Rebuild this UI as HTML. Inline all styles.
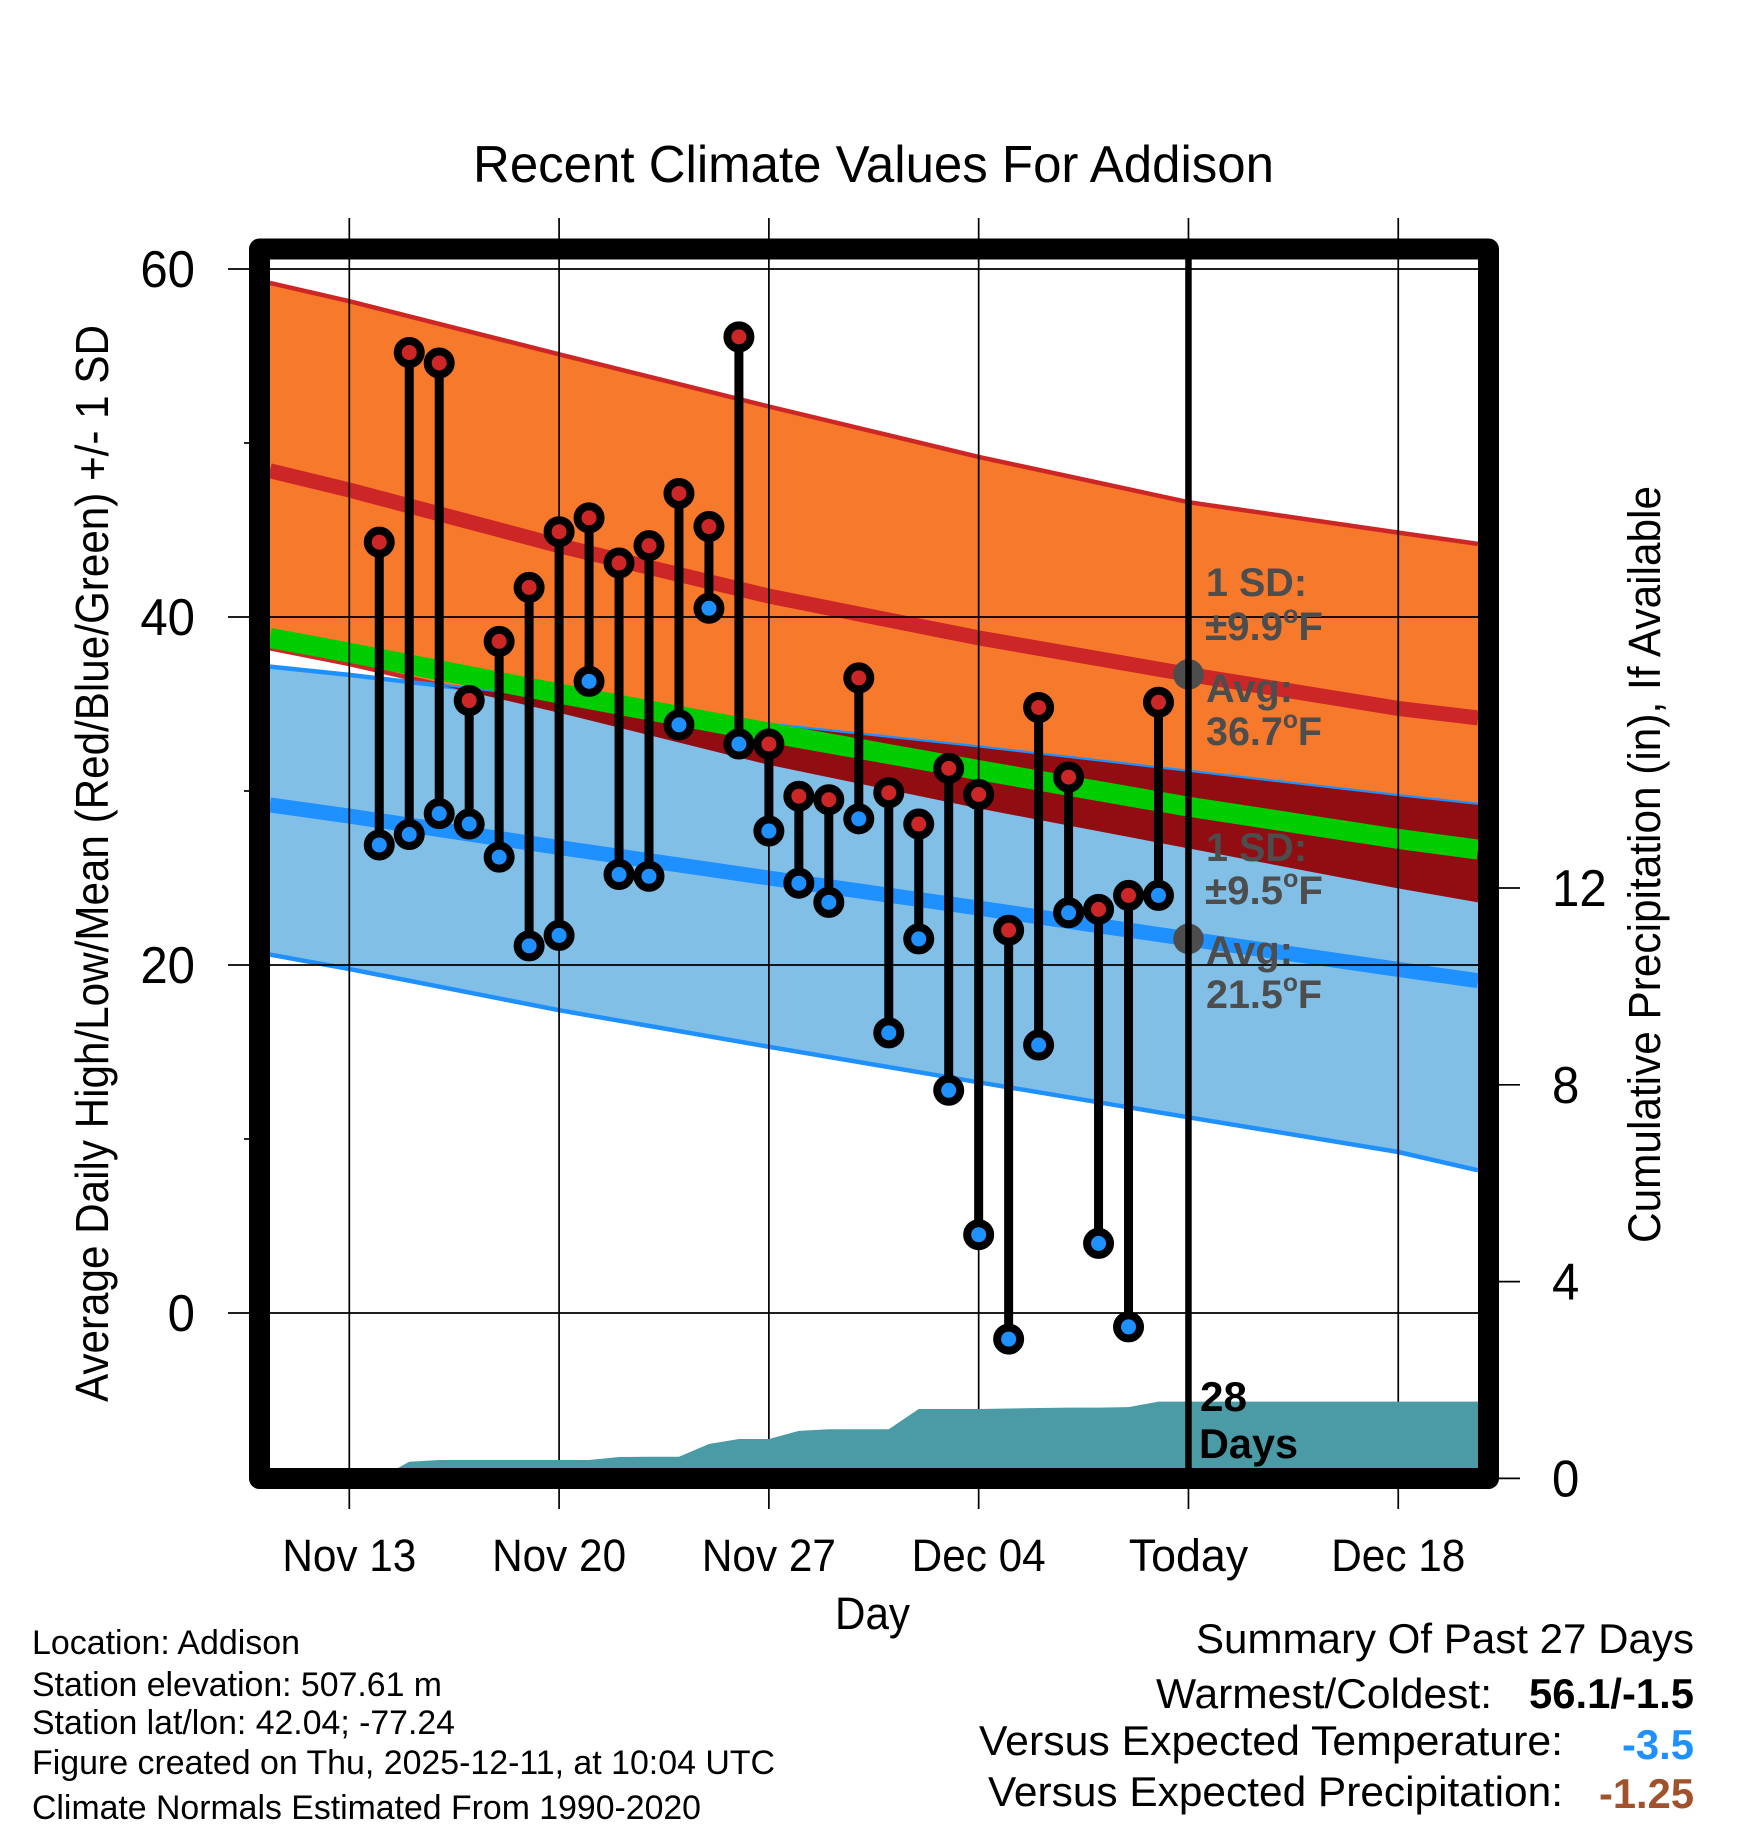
<!DOCTYPE html>
<html lang="en">
<head>
<meta charset="utf-8">
<title>Recent Climate Values For Addison</title>
<style>
  html, body { margin: 0; padding: 0; background: #fff; }
  svg { display: block; font-family: "Liberation Sans", sans-serif; }
  .ann { font-weight: bold; fill: #4d4d4d; font-size: 40px; }
  .foot { font-size: 34px; fill: #000; }
  .sum { font-size: 42px; fill: #000; }
</style>
</head>
<body>
<svg id="chart" xmlns="http://www.w3.org/2000/svg" width="1748" height="1828" viewBox="0 0 1748 1828">
  <rect x="0" y="0" width="1748" height="1828" fill="#ffffff"/>
  <defs>
    <clipPath id="plot-clip"><rect x="270" y="259" width="1208" height="1209"/></clipPath>
    <clipPath id="orange-clip"><path id="orange-clip-path" d=""/></clipPath>
  </defs>
  <g id="plot" clip-path="url(#plot-clip)"></g>
  <g id="axes"></g>
  <g id="marks" clip-path="url(#plot-clip)"></g>

  <circle id="dot-high" r="15.3" fill="#4d4d4d"/>
  <circle id="dot-low" r="15.3" fill="#4d4d4d"/>
  <line id="today-line" y1="259" y2="1468" stroke="#000" stroke-width="6.5"/>

  <rect x="259.5" y="249" width="1229" height="1229.5" fill="none" stroke="#000" stroke-width="21" stroke-linejoin="round"/>

  <g id="tick-labels"></g>

  <text x="473" y="182" font-size="52" textLength="801" lengthAdjust="spacingAndGlyphs">Recent Climate Values For Addison</text>
  <text x="835" y="1629" font-size="45" textLength="75" lengthAdjust="spacingAndGlyphs">Day</text>
  <text transform="translate(108 1402) rotate(-90)" font-size="46" textLength="1077" lengthAdjust="spacingAndGlyphs">Average Daily High/Low/Mean (Red/Blue/Green) +/- 1 SD</text>
  <text transform="translate(1660 1243) rotate(-90)" font-size="45" textLength="757" lengthAdjust="spacingAndGlyphs">Cumulative Precipitation (in), If Available</text>

  <text class="ann" x="1206" y="596" textLength="101" lengthAdjust="spacingAndGlyphs">1 SD:</text>
  <text class="ann" x="1205" y="640" textLength="118" lengthAdjust="spacingAndGlyphs">±9.9<tspan font-size="25" dy="-17">o</tspan><tspan dy="17">F</tspan></text>
  <text class="ann" x="1206" y="702" textLength="87" lengthAdjust="spacingAndGlyphs">Avg:</text>
  <text class="ann" x="1206" y="745" textLength="116" lengthAdjust="spacingAndGlyphs">36.7<tspan font-size="25" dy="-17">o</tspan><tspan dy="17">F</tspan></text>
  <text class="ann" x="1206" y="861" textLength="101" lengthAdjust="spacingAndGlyphs">1 SD:</text>
  <text class="ann" x="1205" y="904" textLength="118" lengthAdjust="spacingAndGlyphs">±9.5<tspan font-size="25" dy="-17">o</tspan><tspan dy="17">F</tspan></text>
  <text class="ann" x="1206" y="964" textLength="87" lengthAdjust="spacingAndGlyphs">Avg:</text>
  <text class="ann" x="1206" y="1008" textLength="116" lengthAdjust="spacingAndGlyphs">21.5<tspan font-size="25" dy="-17">o</tspan><tspan dy="17">F</tspan></text>

  <text x="1200" y="1411" font-size="42" font-weight="bold" textLength="47" lengthAdjust="spacingAndGlyphs">28</text>
  <text x="1199" y="1458" font-size="42" font-weight="bold" textLength="99" lengthAdjust="spacingAndGlyphs">Days</text>

  <text class="foot" x="32" y="1654" textLength="268" lengthAdjust="spacingAndGlyphs">Location: Addison</text>
  <text class="foot" x="32" y="1696" textLength="410" lengthAdjust="spacingAndGlyphs">Station elevation: 507.61 m</text>
  <text class="foot" x="32" y="1734" textLength="423" lengthAdjust="spacingAndGlyphs">Station lat/lon: 42.04; -77.24</text>
  <text class="foot" x="32" y="1774" textLength="743" lengthAdjust="spacingAndGlyphs">Figure created on Thu, 2025-12-11, at 10:04 UTC</text>
  <text class="foot" x="32" y="1819" textLength="669" lengthAdjust="spacingAndGlyphs">Climate Normals Estimated From 1990-2020</text>

  <text class="sum" x="1196" y="1653" textLength="498" lengthAdjust="spacingAndGlyphs">Summary Of Past 27 Days</text>
  <text class="sum" x="1156" y="1708" textLength="336" lengthAdjust="spacingAndGlyphs">Warmest/Coldest:</text>
  <text class="sum" x="1529" y="1708" font-weight="bold" textLength="165" lengthAdjust="spacingAndGlyphs">56.1/-1.5</text>
  <text class="sum" x="979" y="1755" textLength="584" lengthAdjust="spacingAndGlyphs">Versus Expected Temperature:</text>
  <text class="sum" x="1622" y="1759" font-weight="bold" style="fill:#1e90ff" textLength="72" lengthAdjust="spacingAndGlyphs">-3.5</text>
  <text class="sum" x="988" y="1806" textLength="575" lengthAdjust="spacingAndGlyphs">Versus Expected Precipitation:</text>
  <text class="sum" x="1599" y="1808" font-weight="bold" style="fill:#a0522d" textLength="95" lengthAdjust="spacingAndGlyphs">-1.25</text>
</svg>

<script>
// Observation days, counted from Nov 13
const obsDays = [1,2,3,4,5,6,7,8,9,10,11,12,13,14,15,16,17,18,19,20,21,22,23,24,25,26,27];
const dailyHigh = [44.3,55.2,54.6,35.2,38.6,41.7,44.9,45.7,43.1,44.1,47.1,45.2,56.1,32.7,29.7,29.5,36.5,29.9,28.1,31.3,29.8,22.0,34.8,30.8,23.2,24.0,35.1];
const dailyLow = [26.9,27.5,28.7,28.1,26.2,21.1,21.7,36.3,25.2,25.1,33.8,40.5,32.7,27.7,24.7,23.6,28.4,16.1,21.5,12.8,4.5,-1.5,15.4,23.0,4.0,-0.8,24.0];

// Climate normals, sampled on these days
const normalDays = [-2.65,0,7,14,21,28,35,37.66];
const highPlusSD = [59.2,58.15,55.1,52.1,49.2,46.6,44.85,44.2];
const highMean = [48.4,47.3,44.1,41.2,38.8,36.7,34.75,34.2];
const highMinusSD = [38.2,37.3,34.5,31.5,29.0,26.7,24.4,23.6];
const meanMean = [38.8,37.95,35.6,33.35,31.2,29.1,27.25,26.63];
const lowPlusSD = [37.15,36.67,35.25,33.8,32.5,31.1,29.7,29.2];
const lowMean = [29.2,28.56,26.75,25.0,23.27,21.5,19.75,19.1];
const lowMinusSD = [20.6,19.77,17.4,15.3,13.26,11.25,9.25,8.2];

// Cumulative precipitation (in)
const precipDays = [1,2,3,4,5,6,7,8,9,10,11,12,13,14,15,16,17,18,19,20,21,22,23,24,25,26,27,28,37.66];
const precipValues = [0,0.34,0.375,0.375,0.375,0.375,0.375,0.375,0.435,0.44,0.44,0.70,0.80,0.80,0.965,1.0,1.0,1.0,1.41,1.41,1.41,1.42,1.43,1.44,1.44,1.45,1.56,1.56,1.56];

// Axis ticks
const xTickDays = [0,7,14,21,28,35];
const xTickLabels = ["Nov 13","Nov 20","Nov 27","Dec 04","Today","Dec 18"];
const todayDay = 28;
const tempMajorTicks = [0,20,40,60];
const tempMinorTicks = [10,30,50];
const precipTicks = [0,4,8,12];
const todayHighAvg = 36.7;
const todayLowAvg = 21.5;

function xScale(d) { return 349.3 + 29.97 * d; }
function yScale(t) { return 1313 - 17.4 * t; }
function pScale(p) { return 1478.4 - 49.2 * p; }

const SVGNS = 'http://www.w3.org/2000/svg';
function make(tag, attrs, parent) {
  const el = document.createElementNS(SVGNS, tag);
  for (const k in attrs) el.setAttribute(k, attrs[k]);
  parent.appendChild(el);
  return el;
}
function linePath(days, vals) {
  return days.map((d, i) => (i ? 'L' : 'M') + xScale(d).toFixed(1) + ' ' + yScale(vals[i]).toFixed(1)).join(' ');
}
function bandPath(days, upper, lower) {
  const up = days.map((d, i) => xScale(d).toFixed(1) + ' ' + yScale(upper[i]).toFixed(1));
  const lo = days.map((d, i) => xScale(d).toFixed(1) + ' ' + yScale(lower[i]).toFixed(1)).reverse();
  return 'M' + up.join(' L') + ' L' + lo.join(' L') + ' Z';
}

const plot = document.getElementById('plot');
const axes = document.getElementById('axes');
const marks = document.getElementById('marks');
const labels = document.getElementById('tick-labels');

const orangeD = bandPath(normalDays, highPlusSD, highMinusSD);
const blueD = bandPath(normalDays, lowPlusSD, lowMinusSD);
document.getElementById('orange-clip-path').setAttribute('d', orangeD);

const highBand = make('path', {d: orangeD, fill: '#f7792c'}, plot);



const highUpper = make('path', {d: linePath(normalDays, highPlusSD), fill: 'none', stroke: '#cd2626', 'stroke-width': 4.5}, plot);



const highLower = make('path', {d: linePath(normalDays, highMinusSD), fill: 'none', stroke: '#cd2626', 'stroke-width': 4.5}, plot);



const lowBand = make('path', {d: blueD, fill: '#82bfe6'}, plot);



const lowUpper = make('path', {d: linePath(normalDays, lowPlusSD), fill: 'none', stroke: '#1e90ff', 'stroke-width': 4.5}, plot);



const lowLower = make('path', {d: linePath(normalDays, lowMinusSD), fill: 'none', stroke: '#1e90ff', 'stroke-width': 4.5}, plot);



const overlap = make('path', {d: blueD, fill: '#910d12', 'clip-path': 'url(#orange-clip)'}, plot);



const highAvg = make('path', {d: linePath(normalDays, highMean), fill: 'none', stroke: '#cd2626', 'stroke-width': 15}, plot);



const lowAvg = make('path', {d: linePath(normalDays, lowMean), fill: 'none', stroke: '#1e90ff', 'stroke-width': 15}, plot);



const greenAvg = make('path', {d: linePath(normalDays, meanMean), fill: 'none', stroke: '#00cd00', 'stroke-width': 20}, plot);



// Grid lines and ticks
xTickDays.forEach((d, i) => {
  const x = xScale(d);
  const g = make('line', {x1: x, x2: x, y1: 218, y2: 1509, stroke: '#000', 'stroke-width': 1.7}, axes);
  
  
  const widthScale = xTickLabels[i] === 'Today' ? 0.995 : 0.94;
  const t = make('text', {transform: 'translate(' + x + ' 1571) scale(' + widthScale + ' 1)', 'font-size': 45, 'text-anchor': 'middle'}, labels);
  
  
  t.textContent = xTickLabels[i];
});
tempMajorTicks.forEach(v => {
  const y = yScale(v);
  const g = make('line', {x1: 228, x2: 1478, y1: y, y2: y, stroke: '#000', 'stroke-width': 1.7}, axes);
  
  
  const t = make('text', {transform: 'translate(195 ' + (y + 18) + ') scale(0.945 1)', 'font-size': 52, 'text-anchor': 'end'}, labels);
  
  
  t.textContent = String(v);
});
tempMinorTicks.forEach(v => {
  const y = yScale(v);
  const g = make('line', {x1: 244, x2: 250, y1: y, y2: y, stroke: '#000', 'stroke-width': 1.7}, axes);
  
  
});
precipTicks.forEach(v => {
  const y = pScale(v);
  const g = make('line', {x1: 1498, x2: 1520, y1: y, y2: y, stroke: '#000', 'stroke-width': 1.7}, axes);
  
  
  const t = make('text', {transform: 'translate(1552 ' + (y + 18) + ') scale(0.945 1)', 'font-size': 52}, labels);
  
  
  t.textContent = String(v);
});

// Precipitation area (above the grid)
const precipBase = pScale(0);
const precipPts = precipDays.map((d, i) => xScale(d).toFixed(1) + ' ' + pScale(precipValues[i]).toFixed(1));
const precipD = 'M' + xScale(precipDays[0]).toFixed(1) + ' ' + precipBase + ' L' + precipPts.join(' L') + ' L' + xScale(precipDays[precipDays.length - 1]).toFixed(1) + ' ' + precipBase + ' Z';
const precipArea = make('path', {d: precipD, fill: '#4a9ba6'}, marks);



// Daily stems and markers
obsDays.forEach((d, i) => {
  const x = xScale(d);
  const yHi = yScale(dailyHigh[i]);
  const yLo = yScale(dailyLow[i]);
  const stem = make('line', {x1: x, x2: x, y1: yHi, y2: yLo, stroke: '#000', 'stroke-width': 9}, marks);
  
  
  const lo = make('circle', {cx: x, cy: yLo, r: 11.5, fill: '#1e90ff', stroke: '#000', 'stroke-width': 8}, marks);
  
  
  const hi = make('circle', {cx: x, cy: yHi, r: 11.5, fill: '#cd2626', stroke: '#000', 'stroke-width': 8}, marks);
  
  
});

// Today marker
const todayX = xScale(todayDay);
document.getElementById('today-line').setAttribute('x1', todayX);
document.getElementById('today-line').setAttribute('x2', todayX);
const dotHigh = document.getElementById('dot-high');
dotHigh.setAttribute('cx', todayX);
dotHigh.setAttribute('cy', yScale(todayHighAvg));
const dotLow = document.getElementById('dot-low');
dotLow.setAttribute('cx', todayX);
dotLow.setAttribute('cy', yScale(todayLowAvg));
</script>
</body>
</html>
